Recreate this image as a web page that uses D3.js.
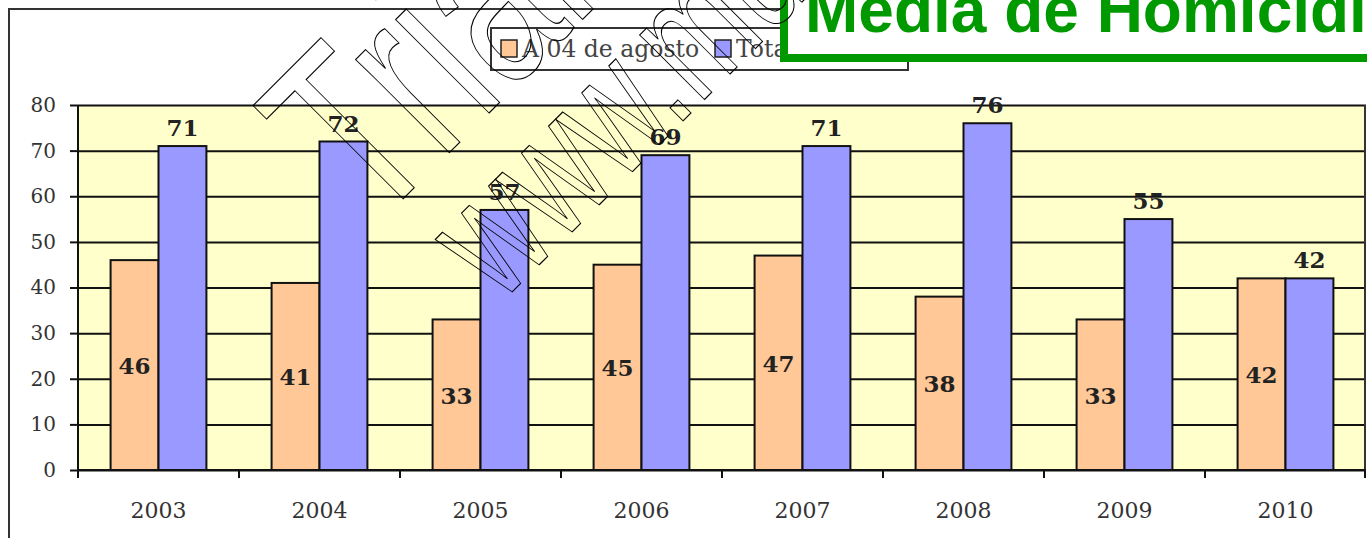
<!DOCTYPE html>
<html lang="pt">
<head>
<meta charset="UTF-8">
<title>Média de Homicídios</title>
<script src="https://d3js.org/d3.v7.min.js"></script>
<style>
  body { margin: 0; background: #fff; }
  svg { display: block; }
</style>
</head>
<body>
<div id="chart"></div>
<script>
// data
const years = ["2003", "2004", "2005", "2006", "2007", "2008", "2009", "2010"];
const seriesNames = ["A 04 de agosto", "Total"];
const ateAgosto = [46, 41, 33, 45, 47, 38, 33, 42];
const totalAno = [71, 72, 57, 69, 71, 76, 55, 42];
const yTicks = [0, 10, 20, 30, 40, 50, 60, 70, 80];
const seriesColors = ["#FFC896", "#9999FF"];

const W = 1367, H = 538;
const plot = { left: 78, right: 1366, top: 105, bottom: 470 };

const svg = d3.select("#chart").append("svg")
  .attr("width", W).attr("height", H);

// outer frame
svg.append("rect")
  .attr("x", 9).attr("y", 9).attr("width", 1500).attr("height", 600)
  .attr("fill", "none").attr("stroke", "#333").attr("stroke-width", 2);

const y = d3.scaleLinear().domain([0, 80]).range([plot.bottom, plot.top]);
const x0 = d3.scaleBand().domain(years).range([plot.left, plot.right]);
const x1 = d3.scaleBand().domain(d3.range(seriesNames.length))
  .range([0, x0.bandwidth()]).paddingOuter(0.68);

// plot background
svg.append("rect")
  .attr("x", plot.left).attr("y", plot.top)
  .attr("width", plot.right - plot.left).attr("height", plot.bottom - plot.top)
  .attr("fill", "#FFFFCC");

// gridlines
const grid = svg.append("g")
  .attr("transform", `translate(${plot.left},0)`)
  .call(d3.axisRight(y).tickValues(yTicks).tickSize(plot.right - plot.left).tickFormat(""));
grid.select(".domain").remove();
grid.selectAll("line").attr("stroke", "#111").attr("stroke-width", 2);

// right plot edge
svg.append("line")
  .attr("x1", plot.right - 1).attr("x2", plot.right - 1)
  .attr("y1", plot.top).attr("y2", plot.bottom)
  .attr("stroke", "#333").attr("stroke-width", 2);

// y axis
const yAxis = svg.append("g")
  .attr("transform", `translate(${plot.left},0)`)
  .call(d3.axisLeft(y).tickValues(yTicks).tickSize(8).tickPadding(14));
yAxis.select(".domain").remove();
yAxis.selectAll("line").attr("stroke", "#111").attr("stroke-width", 2);
yAxis.selectAll("text")
  .attr("font-family", "'DejaVu Serif', Georgia, serif")
  .attr("font-size", 20).attr("fill", "#333");

// bars
const rows = years.map((yr, i) => ({ year: yr, values: [ateAgosto[i], totalAno[i]] }));
const groups = svg.append("g").selectAll("g")
  .data(rows).join("g")
  .attr("transform", d => `translate(${x0(d.year)},0)`);

groups.selectAll("rect")
  .data(d => d.values.map((v, k) => ({ k, v })))
  .join("rect")
  .attr("x", d => x1(d.k))
  .attr("y", d => y(d.v))
  .attr("width", x1.bandwidth())
  .attr("height", d => y(0) - y(d.v))
  .attr("fill", d => seriesColors[d.k])
  .attr("stroke", "#111").attr("stroke-width", 2);

// data labels: first series inside the bar, second above it
groups.selectAll("text")
  .data(d => d.values.map((v, k) => ({ k, v })))
  .join("text")
  .attr("x", d => x1(d.k) + x1.bandwidth() / 2)
  .attr("y", d => d.k === 0 ? (y(0) + y(d.v)) / 2 + 9 : y(d.v) - 10)
  .attr("text-anchor", "middle")
  .attr("font-family", "'DejaVu Serif', Georgia, serif")
  .attr("font-weight", "bold")
  .attr("font-size", 23)
  .attr("fill", "#222")
  .text(d => d.v);

// x axis: domain line, ticks at band edges, labels centred
svg.append("line")
  .attr("x1", plot.left).attr("x2", plot.right)
  .attr("y1", plot.bottom).attr("y2", plot.bottom)
  .attr("stroke", "#111").attr("stroke-width", 2);
svg.append("line")
  .attr("x1", plot.left).attr("x2", plot.left)
  .attr("y1", plot.top).attr("y2", plot.bottom + 8)
  .attr("stroke", "#111").attr("stroke-width", 2);
svg.append("g").selectAll("line")
  .data(years.map(d => x0(d)).concat([plot.right - 1]))
  .join("line")
  .attr("x1", d => d).attr("x2", d => d)
  .attr("y1", plot.bottom).attr("y2", plot.bottom + 8)
  .attr("stroke", "#111").attr("stroke-width", 2);

const xAxis = svg.append("g")
  .attr("transform", `translate(0,${plot.bottom})`)
  .call(d3.axisBottom(x0).tickSize(0).tickPadding(32));
xAxis.select(".domain").remove();
xAxis.selectAll("text")
  .attr("font-family", "'DejaVu Serif', Georgia, serif")
  .attr("font-size", 22).attr("fill", "#333");

// legend
const legend = svg.append("g");
legend.append("rect")
  .attr("x", 491).attr("y", 28).attr("width", 417).attr("height", 42)
  .attr("fill", "#fff").attr("stroke", "#333").attr("stroke-width", 2);
const legendX = [501, 715];
seriesNames.forEach((name, k) => {
  legend.append("rect")
    .attr("x", legendX[k]).attr("y", 40).attr("width", 16).attr("height", 17)
    .attr("fill", seriesColors[k]).attr("stroke", "#222").attr("stroke-width", 1.5);
  legend.append("text")
    .attr("x", legendX[k] + 21).attr("y", 57)
    .attr("font-family", "'DejaVu Serif', Georgia, serif")
    .attr("font-size", 23.5).attr("fill", "#444")
    .text(name);
});

// title box
svg.append("rect")
  .attr("x", 784).attr("y", -30).attr("width", 700).attr("height", 88)
  .attr("fill", "#fff").attr("stroke", "#009900").attr("stroke-width", 8);
svg.append("text")
  .attr("x", 805).attr("y", 32)
  .attr("font-family", "'Liberation Sans', Arial, sans-serif")
  .attr("font-weight", "bold").attr("font-size", 64)
  .attr("fill", "#009900")
  .text("Média de Homicídios");

// outlined watermark
const wm = [
  { text: "Trial", x: 372, y: 230, size: 250 },
  { text: "www.mu", x: 500, y: 304, size: 173 }
];
svg.append("g").selectAll("text")
  .data(wm).join("text")
  .attr("transform", d => `translate(${d.x},${d.y}) rotate(-45) scale(0.68,1)`)
  .attr("font-family", "'Liberation Sans', Arial, sans-serif")
  .attr("font-size", d => d.size)
  .attr("fill", "none").attr("stroke", "#000").attr("stroke-width", 1.2)
  .text(d => d.text);
</script>
</body>
</html>
